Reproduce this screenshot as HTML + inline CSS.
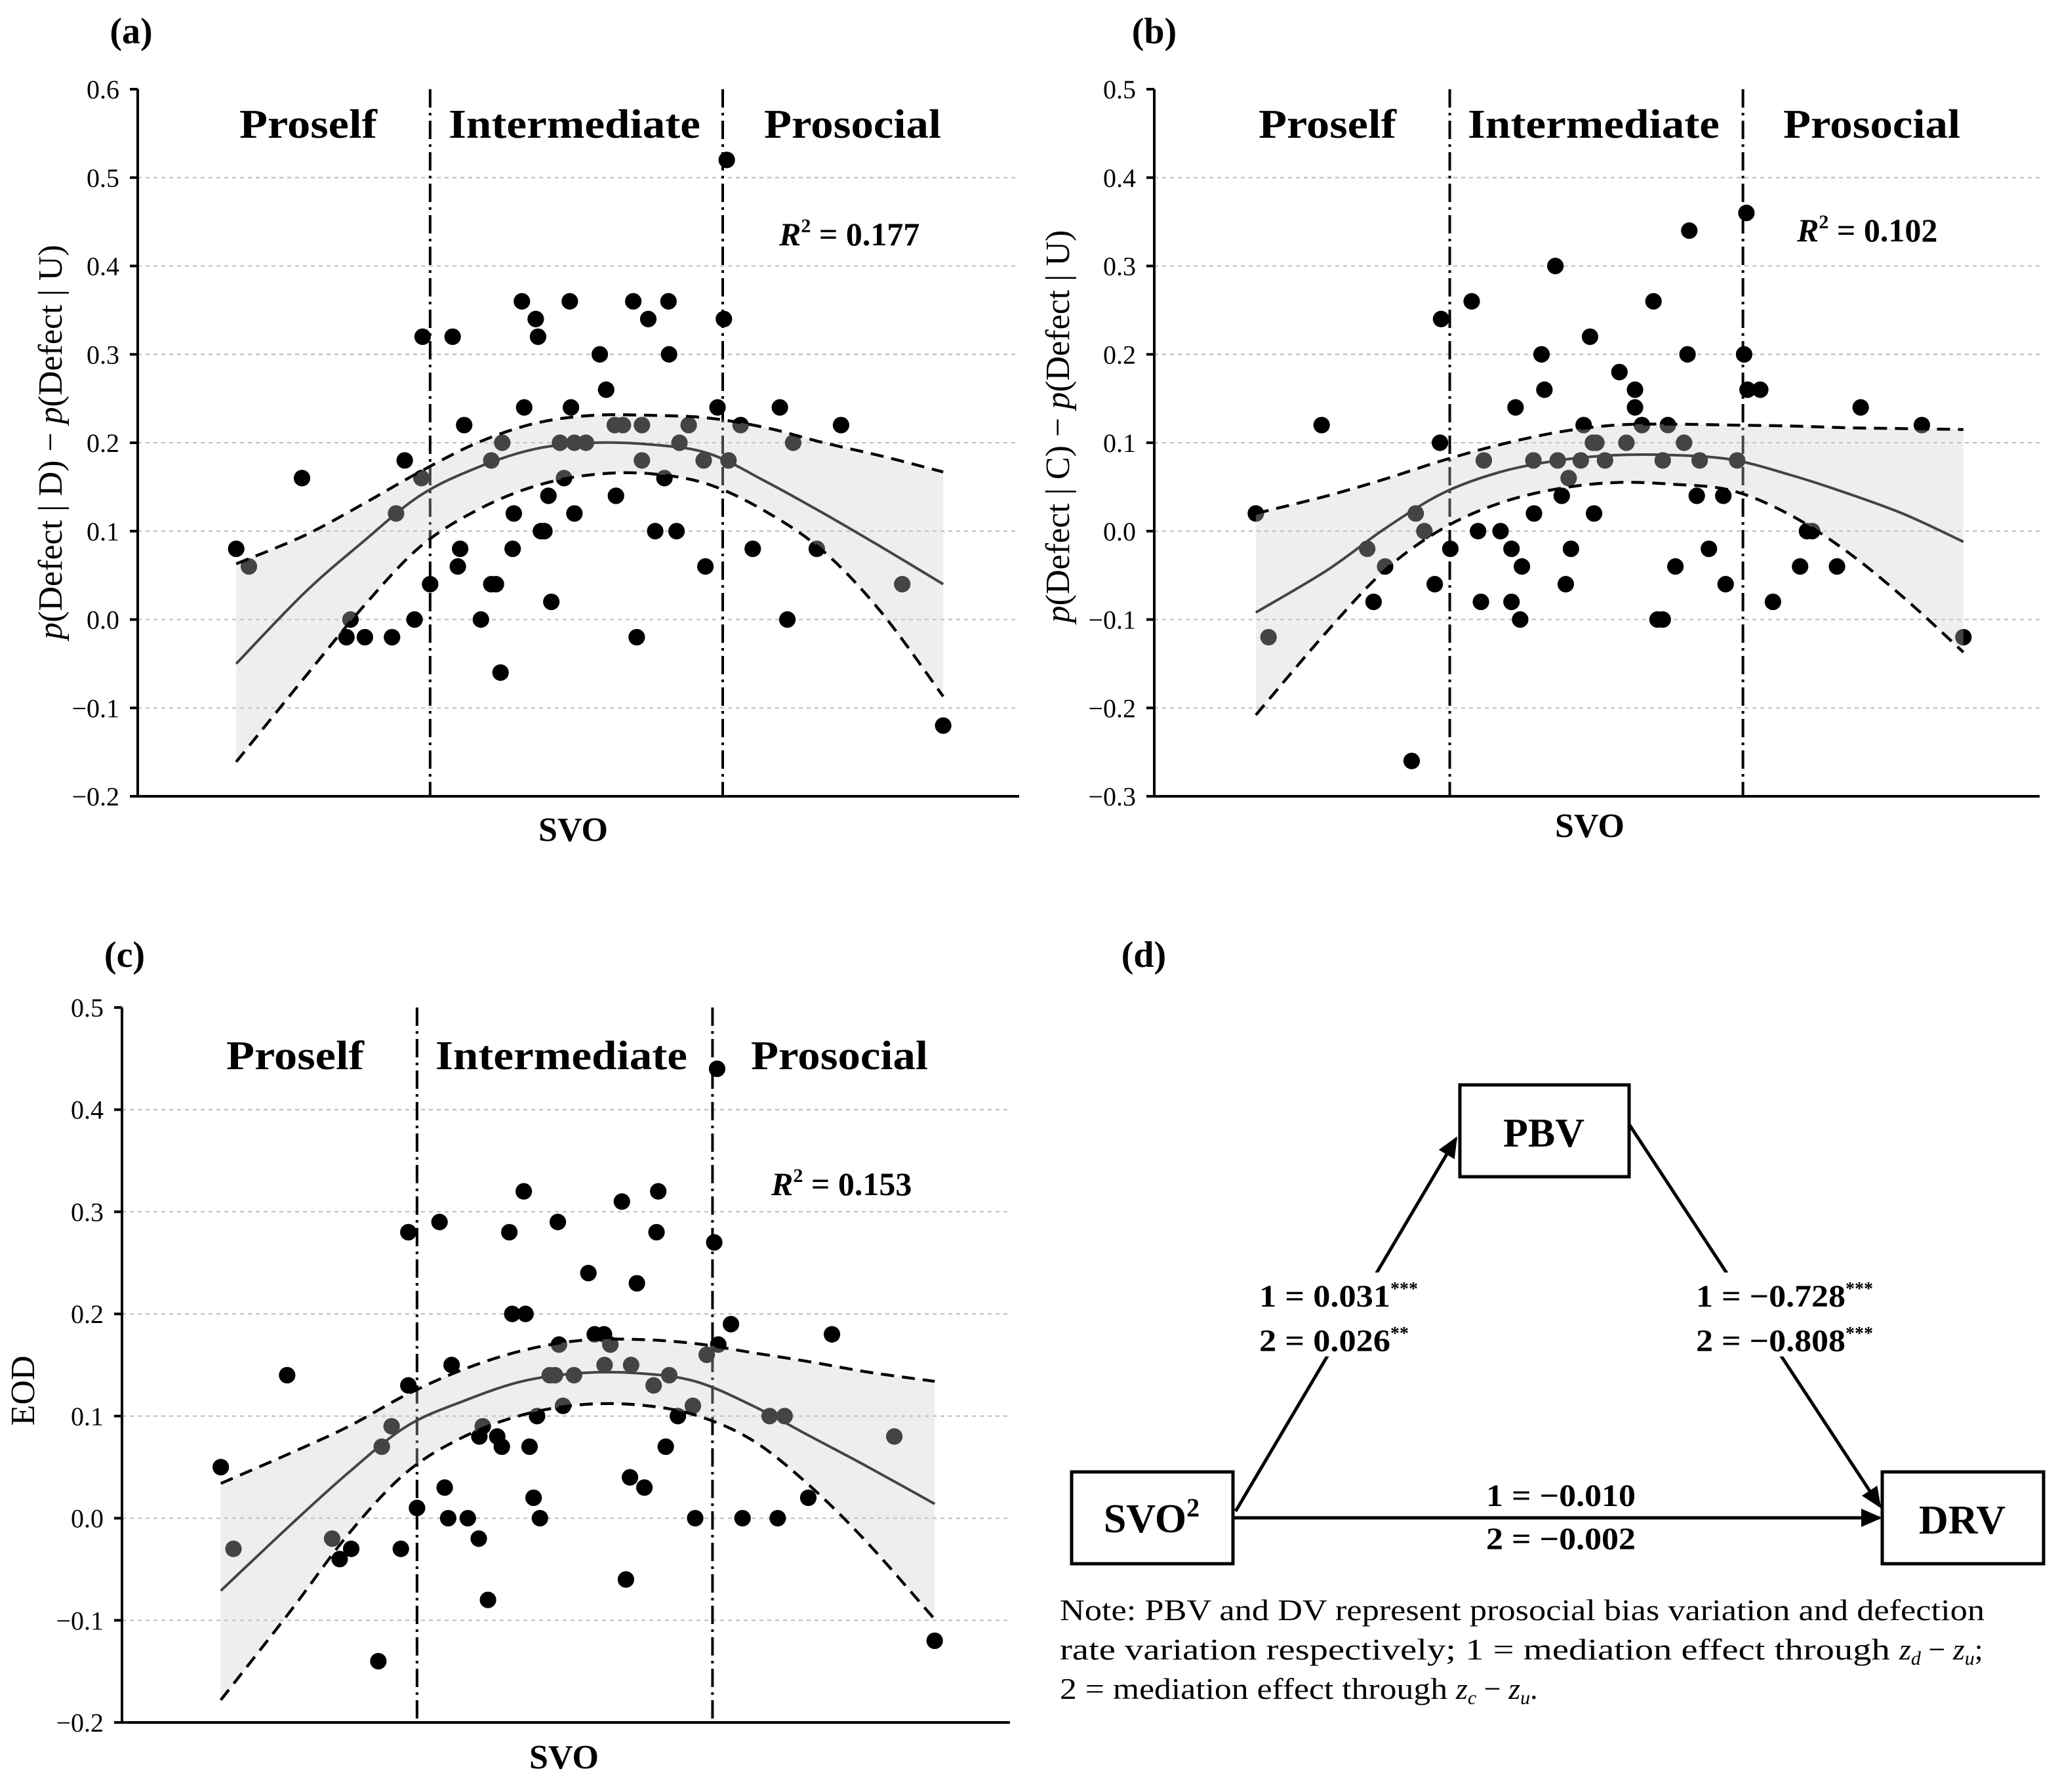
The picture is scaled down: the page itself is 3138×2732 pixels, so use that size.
<!DOCTYPE html>
<html><head><meta charset="utf-8"><style>
html,body{margin:0;padding:0;background:#fff}
svg{display:block}
text{font-family:"Liberation Serif",serif;fill:#000}
</style></head><body>
<svg id="fig" width="3138" height="2732" viewBox="0 0 1569 1366" xmlns="http://www.w3.org/2000/svg">
<g id="d">
<text x="872" y="737" font-size="28" font-weight="bold" text-anchor="middle">(d)</text>
<rect x="1113" y="827" width="129" height="70" fill="#fff" stroke="#000" stroke-width="2.5"/>
<text x="1177" y="874" font-size="31" font-weight="bold" text-anchor="middle">PBV</text>
<rect x="817" y="1122" width="123" height="70" fill="#fff" stroke="#000" stroke-width="2.5"/>
<text x="878" y="1168" font-size="31" font-weight="bold" text-anchor="middle">SVO<tspan font-size="20" dy="-12">2</tspan></text>
<rect x="1435" y="1122" width="123" height="70" fill="#fff" stroke="#000" stroke-width="2.5"/>
<text x="1496" y="1169" font-size="31" font-weight="bold" text-anchor="middle">DRV</text>
<defs>
<marker id="ah2" markerWidth="16" markerHeight="14" refX="14" refY="7" orient="auto" markerUnits="userSpaceOnUse"><path d="M0,0 L16,7 L0,14 z" fill="#000"/></marker></defs>
<line x1="942" y1="1152" x2="1110" y2="868" stroke="#000" stroke-width="2.5" marker-end="url(#ah2)"/>
<line x1="1242" y1="857" x2="1433" y2="1148" stroke="#000" stroke-width="2.5" marker-end="url(#ah2)"/>
<line x1="940" y1="1157" x2="1433" y2="1157" stroke="#000" stroke-width="2.5" marker-end="url(#ah2)"/>
<rect x="955" y="970" width="135" height="64" fill="#fff"/>
<rect x="1288" y="970" width="150" height="64" fill="#fff"/>
<rect x="1125" y="1122" width="130" height="24" fill="#fff"/>
<g font-size="24" font-weight="bold">
<text x="960" y="996"><tspan textLength="100" lengthAdjust="spacingAndGlyphs">1 = 0.031</tspan><tspan font-size="14" dy="-9">***</tspan></text>
<text x="960" y="1030"><tspan textLength="100" lengthAdjust="spacingAndGlyphs">2 = 0.026</tspan><tspan font-size="14" dy="-9">**</tspan></text>
</g>
<g font-size="24" font-weight="bold">
<text x="1293" y="996"><tspan textLength="114" lengthAdjust="spacingAndGlyphs">1 = −0.728</tspan><tspan font-size="14" dy="-9">***</tspan></text>
<text x="1293" y="1030"><tspan textLength="114" lengthAdjust="spacingAndGlyphs">2 = −0.808</tspan><tspan font-size="14" dy="-9">***</tspan></text>
</g>
<g font-size="24" font-weight="bold">
<text x="1133" y="1148" textLength="114" lengthAdjust="spacingAndGlyphs">1 = −0.010</text>
<text x="1133" y="1181" textLength="114" lengthAdjust="spacingAndGlyphs">2 = −0.002</text>
</g>
<g font-size="23">
<text x="808" y="1235" textLength="705" lengthAdjust="spacingAndGlyphs">Note: PBV and DV represent prosocial bias variation and defection</text>
<text x="808" y="1265"><tspan textLength="640" lengthAdjust="spacingAndGlyphs">rate variation respectively; 1 = mediation effect through </tspan><tspan font-style="italic">z<tspan font-size="15" dy="4">d</tspan></tspan><tspan dy="-4"> − </tspan><tspan font-style="italic">z<tspan font-size="15" dy="4">u</tspan></tspan><tspan dy="-4">;</tspan></text>
<text x="808" y="1295"><tspan textLength="302" lengthAdjust="spacingAndGlyphs">2 = mediation effect through </tspan><tspan font-style="italic"> z<tspan font-size="15" dy="4">c</tspan></tspan><tspan dy="-4"> − </tspan><tspan font-style="italic">z<tspan font-size="15" dy="4">u</tspan></tspan><tspan dy="-4">.</tspan></text>
</g>
</g>
</svg>
<script>
// ---------- Panel (a) data ----------
const aSvo=[18.2,20.4,29.6,38,37.3,40.5,45.2,49.1,47.4,45.9,50.3,50.5,51.8,55.7,57.7,57,56.6,60.6,62.4,64.3,62.4,63.2,64,66.1,66.3,67.7,70.1,70.5,68.1,71.6,71,72.3,72.8,74.3,75,76,76.2,76.8,76.8,78.8,81.2,82.3,83.8,85.2,84,87,89.6,93.1,93.2,88.5,88.5,87.6,90.8,92.4,94.5,95,96.6,99.2,99.5,101.6,102.7,103.2,103.5,105.6,107.7,112.4,113.7,114.7,118.8,123,133.6,140.7];
const aVal=[.08,.06,.16,0,-.02,-.02,-.02,0,.18,.12,.16,.32,.04,.32,.22,.08,.06,0,.18,.2,.04,.04,-.06,.08,.12,.36,.34,.32,.24,.1,.1,.14,.02,.2,.16,.36,.24,.12,.2,.2,.3,.26,.22,.22,.14,.36,.34,.36,.3,.22,.18,-.02,.1,.16,.1,.2,.22,.18,.06,.24,.34,.52,.18,.22,.08,.24,0,.2,.08,.22,.04,-.12];
const aCurveX=[18.2,30,40,50,60,70,80,90,100,110,120,130,140.7];
const aFit=[-.05,.03,.087,.14,.172,.193,.2,.198,.188,.156,.12,.082,.04];
const aUpper=[.063,.095,.13,.167,.2,.222,.231,.231,.228,.217,.2,.185,.167];
const aLower=[-.161,-.066,.013,.082,.124,.151,.164,.165,.153,.122,.077,.008,-.087];
const aTicks=[0.6,0.5,0.4,0.3,0.2,0.1,0.0,-0.1,-0.2];
const aDividers=[51.8,102.5];
// ---------- Panel (b) data ----------
const bSvo=[17.6,19.8,29,36.9,40,38,44.6,45.3,46.8,48.6,49.7,49.5,51.3,55,57.1,56.1,56.6,60,61.9,61.9,63.4,63.7,62.6,65.7,65.8,67.1,67.6,69.5,69.9,70.6,71.3,71.8,72.2,73.9,74.4,75.5,76,76.6,76.2,78.1,80.6,81.8,83.3,83.3,84.5,86.5,87.2,88.1,88.1,89,90.3,91.8,92.7,92.4,94,94.5,96.1,98.6,99,101,102.2,102.6,102.8,105,107.2,111.9,113.1,114,118.3,122.4,133,140.2];
const bVal=[.02,-.12,.12,-.02,-.04,-.08,-.26,.02,0,-.06,.24,.1,-.02,.26,.08,0,-.08,0,-.02,-.08,-.1,-.04,.14,.08,.02,.2,.16,.3,.08,.04,-.06,.06,-.02,.08,.12,.22,.1,.1,.02,.08,.18,.1,.16,.14,.12,.26,-.1,-.1,.08,.12,-.04,.1,.34,.2,.04,.08,-.02,.04,-.06,.08,.2,.36,.16,.16,-.08,-.04,0,0,-.04,.14,.12,-.12];
const bCurveX=[17.6,30,40,50,60,70,80,90,100,110,120,130,140.2];
const bFit=[-.092,-.044,.003,.043,.067,.08,.086,.086,.081,.064,.043,.019,-.012];
const bUpper=[.02,.04,.059,.08,.098,.112,.12,.121,.12,.119,.117,.116,.115];
const bLower=[-.208,-.113,-.044,.003,.032,.048,.055,.053,.046,.019,-.023,-.076,-.137];
const bTicks=[0.5,0.4,0.3,0.2,0.1,0.0,-0.1,-0.2,-0.3];
const bDividers=[51.2,102];
// ---------- Panel (c) data ----------
const cSvo=[17.8,20,29.3,37.1,38.4,40.4,45.1,45.7,47.4,49,50.3,50.3,51.8,55.7,57.8,56.6,57.2,60.6,62.5,63.2,62.6,64.1,65.7,66.5,67.8,68.3,70.6,70.3,71.3,72,72.6,73.1,74.8,75.7,76.2,76.4,77.1,79,81.5,82.6,84.2,84.3,85.3,87.3,88,88.7,88.9,89.9,91.2,92.8,93.3,93.6,94.9,95.5,97,99.6,100,102,103.3,103.8,104,106.2,108.2,112.9,114.3,115.5,119.6,123.7,134.5,141.5];
const cVal=[.05,-.03,.14,-.02,-.04,-.03,-.14,.07,.09,-.03,.28,.13,.01,.29,.15,.03,0,0,-.02,.09,.08,-.08,.08,.07,.28,.2,.2,.32,.07,.02,.1,0,.14,.14,.29,.17,.11,.14,.24,.18,.18,.15,.17,.31,-.06,.04,.15,.23,.03,.13,.28,.32,.07,.14,.1,.11,0,.16,.27,.44,.17,.19,0,.1,0,.1,.02,.18,.08,-.12];
const cCurveX=[17.8,30,40,50,60,70,80,90,100,110,120,130,141.5];
const cFit=[-.071,-.006,.045,.09,.115,.134,.142,.142,.134,.11,.08,.05,.014];
const cUpper=[.034,.064,.09,.121,.146,.164,.174,.175,.171,.162,.153,.143,.134];
const cLower=[-.178,-.09,-.015,.045,.08,.101,.111,.111,.101,.076,.031,-.025,-.099];
const cTicks=[0.5,0.4,0.3,0.2,0.1,0.0,-0.1,-0.2];
const cDividers=[51.8,103];

const NS="http://www.w3.org/2000/svg";
const svg=document.getElementById('fig');
function mk(tag,attrs,parent){const e=document.createElementNS(NS,tag);for(const k in attrs)e.setAttribute(k,attrs[k]);parent.appendChild(e);return e;}
// Catmull-Rom smoothing of a list of [x,y] points, returns path segment string (no initial M)
function smooth(pts){
  let s='';
  for(let i=0;i<pts.length-1;i++){
    const p0=pts[i-1]||pts[i],p1=pts[i],p2=pts[i+1],p3=pts[i+2]||p2;
    const c1x=p1[0]+(p2[0]-p0[0])/6,c1y=p1[1]+(p2[1]-p0[1])/6;
    const c2x=p2[0]-(p3[0]-p1[0])/6,c2y=p2[1]-(p3[1]-p1[1])/6;
    s+='C'+c1x+','+c1y+' '+c2x+','+c2y+' '+p2[0]+','+p2[1];
  }
  return s;
}

function panel(cfg){
  const g=mk('g',{},svg);
  
  
  const xs=v=>cfg.x0+v*4.4;
  const ys=v=>cfg.yTop+(cfg.yMax-v)*(cfg.yBot-cfg.yTop)/(cfg.yMax-cfg.yMin);
  cfg.ticks.forEach(t=>{
    const y=ys(t);
    if(t<cfg.yMax-1e-9 && t>cfg.yMin+1e-9){
      const gl=mk('line',{x1:cfg.ax0,x2:cfg.ax1,y1:y,y2:y,stroke:'#bbb','stroke-width':1,'stroke-dasharray':'3 3'},g);
      
      
    }
    const tk=mk('line',{x1:cfg.ax0-6,x2:cfg.ax0,y1:y,y2:y,stroke:'#000','stroke-width':2},g);
    
    
    const tl=mk('text',{x:cfg.ax0-14,y:y+7,'font-size':20,'text-anchor':'end'},g);
    tl.textContent=(t<0?'−':'')+Math.abs(t).toFixed(1);
    
    
  });
  cfg.dividers.forEach(d=>{
    const l=mk('line',{x1:xs(d),x2:xs(d),y1:cfg.yTop,y2:cfg.yBot,stroke:'#000','stroke-width':2,'stroke-dasharray':'14 4 2 4'},g);
    
    
  });
  cfg.svo.forEach((v,i)=>{
    const c=mk('circle',{cx:xs(v),cy:ys(cfg.val[i]),r:6.3,fill:'#000'},g);
    
    
  });
  const upPts=cfg.cx.map((v,i)=>[xs(v),ys(cfg.up[i])]);
  const loPts=cfg.cx.map((v,i)=>[xs(v),ys(cfg.lo[i])]);
  const loRev=loPts.slice().reverse();
  const d='M'+upPts[0][0]+','+upPts[0][1]+smooth(upPts)+'L'+loRev[0][0]+','+loRev[0][1]+smooth(loRev)+'Z';
  const band=mk('path',{d:d,fill:'#ccc','fill-opacity':0.333,stroke:'none'},g);
  
  
  function curve(arr,attrs,name){
    const pts=cfg.cx.map((v,i)=>[xs(v),ys(arr[i])]);
    const e=mk('path',Object.assign({d:'M'+pts[0][0]+','+pts[0][1]+smooth(pts),fill:'none'},attrs),g);
    
    
  }
  curve(cfg.fit,{stroke:'#444','stroke-width':2},'quadratic-fit-line');
  curve(cfg.up,{stroke:'#000','stroke-width':2.2,'stroke-dasharray':'10 6'},'upper-ci-line');
  curve(cfg.lo,{stroke:'#000','stroke-width':2.2,'stroke-dasharray':'10 6'},'lower-ci-line');
  const ya=mk('line',{x1:cfg.ax0,x2:cfg.ax0,y1:cfg.yTop,y2:cfg.yBot,stroke:'#000','stroke-width':2},g);
  
  
  const xa=mk('line',{x1:cfg.ax0,x2:cfg.ax1,y1:cfg.yBot,y2:cfg.yBot,stroke:'#000','stroke-width':2},g);
  
  
  const cats=['Proself','Intermediate','Prosocial'];
  const catW=[105,192,135];
  cats.forEach((c,i)=>{
    const t=mk('text',{x:cfg.catX[i]-catW[i]/2,y:cfg.catY,'font-size':31,'font-weight':'bold',textLength:catW[i],lengthAdjust:'spacingAndGlyphs'},g);
    t.textContent=c;
    
    
  });
  const r=mk('text',{x:cfg.r2x,y:cfg.r2y,'font-size':25,'font-weight':'bold'},g);
  r.innerHTML='<tspan font-style="italic">R</tspan><tspan font-size="15" dy="-10">2</tspan><tspan dy="10"> = '+cfg.r2+'</tspan>';
  
  
  const xl=mk('text',{x:cfg.svoX,y:cfg.svoY,'font-size':26,'font-weight':'bold','text-anchor':'middle'},g);
  xl.textContent='SVO';
  
  
  const pl=mk('text',{x:cfg.plX,y:cfg.plY,'font-size':28,'font-weight':'bold','text-anchor':'middle'},g);
  pl.textContent='('+cfg.id+')';
  
  
  const yl=mk('text',{x:0,y:0,'font-size':cfg.ylSize,'text-anchor':'middle',transform:'translate('+cfg.ylX+','+cfg.ylY+') rotate(-90)'},g);
  yl.innerHTML=cfg.ylab;
  
  
}
panel({id:'a',svo:aSvo,val:aVal,cx:aCurveX,fit:aFit,up:aUpper,lo:aLower,ticks:aTicks,dividers:aDividers,
  x0:100,ax0:105,ax1:777,yTop:68,yBot:607,yMax:0.6,yMin:-0.2,
  catX:[235,438,650],catY:105,r2x:594,r2y:187,r2:'0.177',svoX:437,svoY:641,plX:100,plY:33,
  ylX:47,ylY:337,ylSize:26,ylab:'<tspan font-style="italic">p</tspan>(Defect | D) − <tspan font-style="italic">p</tspan>(Defect | U)'});
panel({id:'b',svo:bSvo,val:bVal,cx:bCurveX,fit:bFit,up:bUpper,lo:bLower,ticks:bTicks,dividers:bDividers,
  x0:880,ax0:880,ax1:1555,yTop:68,yBot:607,yMax:0.5,yMin:-0.3,
  catX:[1012,1215,1427],catY:105,r2x:1370,r2y:184,r2:'0.102',svoX:1212,svoY:638,plX:880,plY:33,
  ylX:815,ylY:325,ylSize:26,ylab:'<tspan font-style="italic">p</tspan>(Defect | C) − <tspan font-style="italic">p</tspan>(Defect | U)'});
panel({id:'c',svo:cSvo,val:cVal,cx:cCurveX,fit:cFit,up:cUpper,lo:cLower,ticks:cTicks,dividers:cDividers,
  x0:90,ax0:93,ax1:770,yTop:768,yBot:1313,yMax:0.5,yMin:-0.2,
  catX:[225,428,640],catY:815,r2x:588,r2y:911,r2:'0.153',svoX:430,svoY:1348,plX:95,plY:737,
  ylX:26,ylY:1060,ylSize:26,ylab:'EOD'});
</script>
</body></html>
